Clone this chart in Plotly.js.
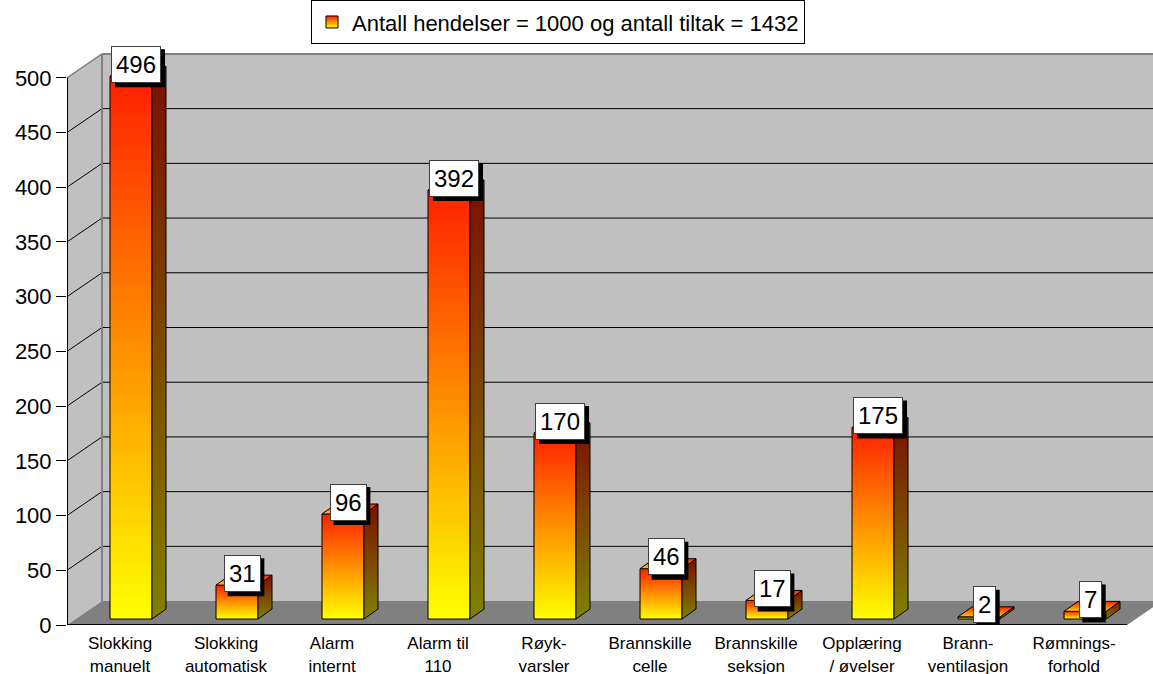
<!DOCTYPE html>
<html>
<head>
<meta charset="utf-8">
<script src="https://cdn.plot.ly/plotly-3.0.1.min.js"></script>
<style>
html,body{margin:0;padding:0;background:#fff;}
#chart{width:1153px;height:674px;}
</style>
</head>
<body>
<div id="chart"></div>
<script>
// ---------- data ----------
const categories = [
  "Slokking<br>manuelt", "Slokking<br>automatisk", "Alarm<br>internt", "Alarm til<br>110",
  "Røyk-<br>varsler", "Brannskille<br>celle", "Brannskille<br>seksjon", "Opplæring<br>/ øvelser",
  "Brann-<br>ventilasjon", "Rømnings-<br>forhold"
];
const values = [496, 31, 96, 392, 170, 46, 17, 175, 2, 7];
const yTicks = [0, 50, 100, 150, 200, 250, 300, 350, 400, 450, 500];
const seriesName = "Antall hendelser = 1000 og antall tiltak = 1432";

// ---------- geometry (pixel based 3D look) ----------
const W = 1153, H = 674;
const M = {l: 67, r: 0, t: 43, b: 49};
const XR = [-0.5, 9.745], YR = [0, 530];
const pxX = (W - M.l - M.r) / (XR[1] - XR[0]);
const pxY = (H - M.t - M.b) / (YR[1] - YR[0]);
const WDX = 35 / pxX, WDY = 24 / pxY;     // wall depth
const BASE = 6 / pxY;                     // bar front plane lift
const BDX = 14 / pxX, BDY = 10 / pxY;     // bar depth
const OFF = -10 / pxX, BW = 42 / pxX;     // bar front offset/width
const LBX = 16 / pxX, LBY = 18 / pxY;     // label offset
const FONT = "Liberation Sans, Arial, sans-serif";
const LABEL_SIZE = 24;

const idx = categories.map((c, i) => i);
const bounds = categories.map((c, i) => i - 0.5).concat([categories.length - 0.5]);
const yTop = yTicks[yTicks.length - 1];
const nLast = categories.length - 0.5;

// ---------- traces ----------
const traces = [{
  type: 'bar', x: idx, y: values, base: BASE, offset: OFF, width: BW,
  name: seriesName, showlegend: true, hoverinfo: 'skip',
  marker: {color: '#ff8c00', line: {color: '#000', width: 1}}
}];

values.forEach((v, i) => {
  const xl = i + OFF, xr = i + OFF + BW;
  // side face
  traces.push({
    type: 'scatter', mode: 'lines', showlegend: false, hoverinfo: 'skip',
    x: [xr, xr + BDX, xr + BDX, xr, xr],
    y: [BASE, BASE + BDY, BASE + v + BDY, BASE + v, BASE],
    fill: 'toself', line: {color: '#000', width: 1},
    fillcolor: '#803000',
    fillgradient: {type: 'vertical', colorscale: [[0, '#808000'], [1, '#7a1000']]}
  });
  // top face
  traces.push({
    type: 'scatter', mode: 'lines', showlegend: false, hoverinfo: 'skip',
    x: [xl, xl + BDX, xr + BDX, xr, xl],
    y: [BASE + v, BASE + v + BDY, BASE + v + BDY, BASE + v, BASE + v],
    fill: 'toself', line: {color: '#000', width: 1},
    fillcolor: '#ff6000',
    fillgradient: {type: 'vertical', colorscale: [[0, '#ffd000'], [1, '#ff2000']]}
  });
});

// ---------- walls, floor, grid ----------
const bx = -0.5 + WDX;
const edgeY = (XR[1] - nLast) / WDX * WDY;
const shapes = [
  {type: 'rect', xref: 'x', yref: 'y', layer: 'below', x0: bx, x1: XR[1], y0: WDY, y1: yTop + WDY,
   fillcolor: '#c0c0c0', line: {width: 0}},
  {type: 'path', xref: 'x', yref: 'y', layer: 'below',
   path: `M -0.5,0 L ${bx},${WDY} L ${bx},${yTop + WDY} L -0.5,${yTop} Z`,
   fillcolor: '#c0c0c0', line: {width: 0}},
  {type: 'path', xref: 'x', yref: 'y', layer: 'below',
   path: `M -0.5,0 L ${bx},${WDY} L ${XR[1]},${WDY} L ${XR[1]},${edgeY} L ${nLast},0 Z`,
   fillcolor: '#808080', line: {width: 0}}
];
yTicks.forEach(t => {
  if (t <= 0 || t >= yTop) return;
  shapes.push({type: 'line', xref: 'x', yref: 'y', layer: 'below', x0: -0.5, y0: t, x1: bx, y1: t + WDY, line: {color: '#000', width: 1}});
  shapes.push({type: 'line', xref: 'x', yref: 'y', layer: 'below', x0: bx, y0: t + WDY, x1: XR[1], y1: t + WDY, line: {color: '#000', width: 1}});
});
// wall edges
shapes.push({type: 'line', xref: 'x', yref: 'y', layer: 'below', x0: bx, y0: WDY, x1: bx, y1: yTop + WDY, line: {color: '#808080', width: 2}});
shapes.push({type: 'line', xref: 'x', yref: 'y', layer: 'below', x0: bx, y0: yTop + WDY, x1: XR[1], y1: yTop + WDY, line: {color: '#808080', width: 2}});
shapes.push({type: 'line', xref: 'x', yref: 'y', layer: 'below', x0: -0.5, y0: yTop, x1: bx, y1: yTop + WDY, line: {color: '#808080', width: 1.5}});
// front axis lines
shapes.push({type: 'line', xref: 'x', yref: 'y', layer: 'below', x0: -0.5, y0: 0, x1: -0.5, y1: yTop, line: {color: '#000', width: 2}});
shapes.push({type: 'line', xref: 'x', yref: 'y', layer: 'below', x0: -0.5, y0: 0, x1: nLast, y1: 0, line: {color: '#000', width: 2}});

// ---------- value labels (white boxes with black drop shadow) ----------
const annotations = [];
values.forEach((v, i) => {
  const txt = String(v);
  const bw = txt.length * LABEL_SIZE * 0.556 + 10, bh = 38;
  shapes.push({type: 'rect', layer: 'above', xref: 'x', yref: 'y',
    xsizemode: 'pixel', ysizemode: 'pixel', xanchor: i + LBX, yanchor: v + LBY,
    x0: -bw / 2 + 4, x1: bw / 2 + 4, y0: -bh / 2 - 4, y1: bh / 2 - 4,
    fillcolor: '#000', line: {width: 0}});
  annotations.push({xref: 'x', yref: 'y', x: i + LBX, y: v + LBY, showarrow: false,
    text: txt, font: {family: FONT, size: LABEL_SIZE, color: '#000'},
    borderpad: 4, borderwidth: 1, bgcolor: '#fff', bordercolor: '#404040'});
});

const layout = {
  width: W, height: H, margin: M,
  paper_bgcolor: '#fff', plot_bgcolor: '#fff',
  font: {family: FONT, color: '#000'},
  showlegend: true,
  legend: {orientation: 'h', x: (558 - M.l) / (W - M.l - M.r), xanchor: 'center',
    y: (H - M.b + 2) / (H - M.t - M.b), yanchor: 'top',
    bordercolor: '#000', borderwidth: 1, bgcolor: '#fff', font: {family: FONT, size: 22, color: '#000'}},
  xaxis: {range: XR, tickmode: 'array', tickvals: idx, ticktext: categories,
    ticks: 'outside', ticklen: 3, tickcolor: 'rgba(0,0,0,0)',
    showgrid: false, zeroline: false, showline: false, fixedrange: true,
    tickfont: {family: FONT, size: 17, color: '#000'}},
  xaxis2: {overlaying: 'x', anchor: 'y', side: 'bottom', range: XR, tickmode: 'array', tickvals: bounds,
    ticks: 'outside', ticklen: 10, tickcolor: '#000', tickwidth: 1, showticklabels: false,
    showgrid: false, zeroline: false, showline: false, fixedrange: true},
  yaxis: {range: YR, tickmode: 'array', tickvals: yTicks,
    ticks: 'outside', ticklen: 10, tickcolor: '#000', tickwidth: 1,
    showgrid: false, zeroline: false, showline: false, fixedrange: true,
    tickfont: {family: FONT, size: 22, color: '#000'}},
  shapes: shapes,
  annotations: annotations
};

Plotly.newPlot('chart', traces, layout, {displayModeBar: false, staticPlot: true}).then(gd => {
  const NS = 'http://www.w3.org/2000/svg';
  const svg = gd.querySelector('svg.main-svg');
  let defs = svg.querySelector('defs');
  if (!defs) { defs = document.createElementNS(NS, 'defs'); svg.insertBefore(defs, svg.firstChild); }
  const g = document.createElementNS(NS, 'linearGradient');
  g.setAttribute('id', 'frontGrad');
  g.setAttribute('x1', '0'); g.setAttribute('y1', '0'); g.setAttribute('x2', '0'); g.setAttribute('y2', '1');
  [['0', '#ff2000'], ['1', '#ffff00']].forEach(([o, c]) => {
    const s = document.createElementNS(NS, 'stop');
    s.setAttribute('offset', o); s.setAttribute('stop-color', c);
    g.appendChild(s);
  });
  defs.appendChild(g);
  gd.querySelectorAll('.barlayer .point path').forEach(p => { p.style.fill = 'url(#frontGrad)'; });
  gd.querySelectorAll('.legend .legendpoints path').forEach(p => {
    p.setAttribute('d', 'M6,6H-6V-6H6Z');
    p.style.fill = 'url(#frontGrad)'; p.style.stroke = '#000'; p.style.strokeWidth = '1px';
  });
});
</script>
</body>
</html>
